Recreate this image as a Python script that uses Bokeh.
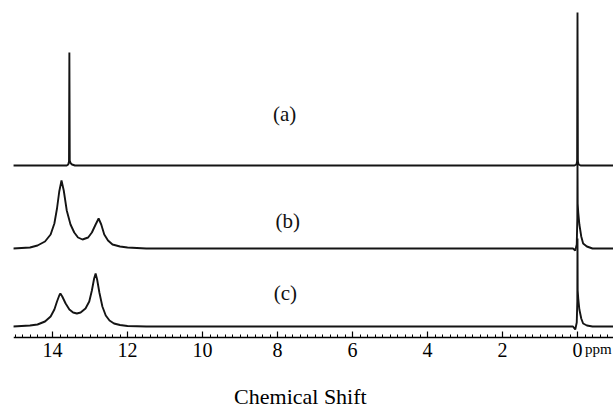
from bokeh.plotting import figure
from bokeh.models import Range1d, FixedTicker
from bokeh.core.properties import value
from bokeh.embed import file_html
from bokeh.resources import INLINE

# ---- data (ppm, intensity above each trace baseline) ----
ppm_a = [15.05, 13.62, 13.58, 13.56, 13.55, 13.54, 13.52, 13.48, 13.40, 12.0, 0.08, 0.03, 0.01, 0.0, -0.01, -0.03, -0.08, -0.96]
int_a = [0, 0, 1, 4, 113, 5, 2.5, 1, 0, 0, 0, 1, 4, 153, 4, 1, 0, 0]

ppm_b = [15.05, 14.6, 14.4, 14.2, 14.05, 13.95, 13.88, 13.82, 13.76, 13.70, 13.62, 13.52,
         13.42, 13.32, 13.20, 13.05, 12.95, 12.85, 12.77, 12.70, 12.62, 12.52, 12.40, 12.2,
         12.0, 11.5, 0.12, 0.06, 0.02, 0.005, 0.0, -0.005, -0.02, -0.05, -0.1, -0.15, -0.25,
         -0.4, -0.96]
int_b = [0, 1, 3, 7, 14, 25, 40, 57, 68, 58, 38, 24,
         16, 11, 9, 11, 16, 24, 30, 24, 14, 8, 4, 2,
         1, 0, 0, -2, 4, 30, 88, 45, 36, 24, 12, 5, 2,
         0, 0]

ppm_c = [15.05, 14.6, 14.4, 14.2, 14.05, 13.95, 13.88, 13.82, 13.79, 13.74, 13.65, 13.55,
         13.45, 13.35, 13.25, 13.12, 13.02, 12.95, 12.89, 12.85, 12.81, 12.75, 12.67, 12.58,
         12.48, 12.36, 12.2, 12.0, 11.5, 0.12, 0.06, 0.02, 0.005, 0.0, -0.005, -0.02, -0.05,
         -0.1, -0.15, -0.25, -0.4, -0.96]
int_c = [0, 1, 2, 5, 10, 17, 25, 31, 33, 30, 23, 17,
         14, 13, 14, 18, 25, 36, 48, 53, 47, 34, 20, 11,
         6, 3, 1.5, 0.5, 0, 0, -3, 4, 25, 88, 36, 28, 17,
         8, 3, 1, 0, 0]

offsets = {"a": 172, "b": 89, "c": 11}
trace_labels = ["(a)", "(b)", "(c)"]
label_ppm = [7.81, 7.73, 7.79]
label_y = [224, 117, 45]
tick_values = [0, 2, 4, 6, 8, 10, 12, 14]
x_title = "Chemical Shift"
unit_text = "ppm"

SERIF = "serif"

p = figure(width=613, height=408, output_backend="svg", toolbar_location=None,
           x_range=Range1d(15.04, -0.96), y_range=Range1d(-71, 337),
           min_border_left=13, min_border_right=0, min_border_top=0,
           min_border_bottom=0)
p.outline_line_color = None
p.background_fill_color = "white"
p.border_fill_color = "white"
p.xgrid.visible = False
p.ygrid.visible = False
p.yaxis.visible = False

for xs, ys, key in [(ppm_a, int_a, "a"), (ppm_b, int_b, "b"), (ppm_c, int_c, "c")]:
    p.line(xs, [v + offsets[key] for v in ys], line_color="#141414", line_width=1.9)

p.text(x=label_ppm, y=label_y, text=trace_labels, text_font=value(SERIF),
       text_font_size="21px", text_align="center", text_baseline="middle",
       text_color="#111111")

ax = p.xaxis[0]
ax.fixed_location = 0
ax.ticker = FixedTicker(ticks=tick_values,
                        minor_ticks=[round(15.0 - 0.2 * i, 2) for i in range(0, 80)])
ax.major_tick_in = 6
ax.major_tick_out = 0
ax.minor_tick_in = 3
ax.minor_tick_out = 0
ax.axis_line_width = 1.5
ax.axis_line_color = "black"
ax.major_tick_line_color = "black"
ax.minor_tick_line_color = "black"
ax.major_tick_line_width = 1.2
ax.minor_tick_line_width = 1
ax.major_label_text_font = SERIF
ax.major_label_text_font_size = "20px"
ax.major_label_text_color = "black"
ax.major_label_standoff = 5

p.text(x=[-0.2], y=[-11], text=[unit_text], text_font=value(SERIF),
       text_font_size="15px", text_align="left", text_baseline="middle",
       text_color="black")
p.text(x=[7.39], y=[-58.5], text=[x_title], text_font=value(SERIF),
       text_font_size="22px", text_align="center", text_baseline="middle",
       text_color="black")

open("out.html", "w").write(file_html(p, INLINE))
